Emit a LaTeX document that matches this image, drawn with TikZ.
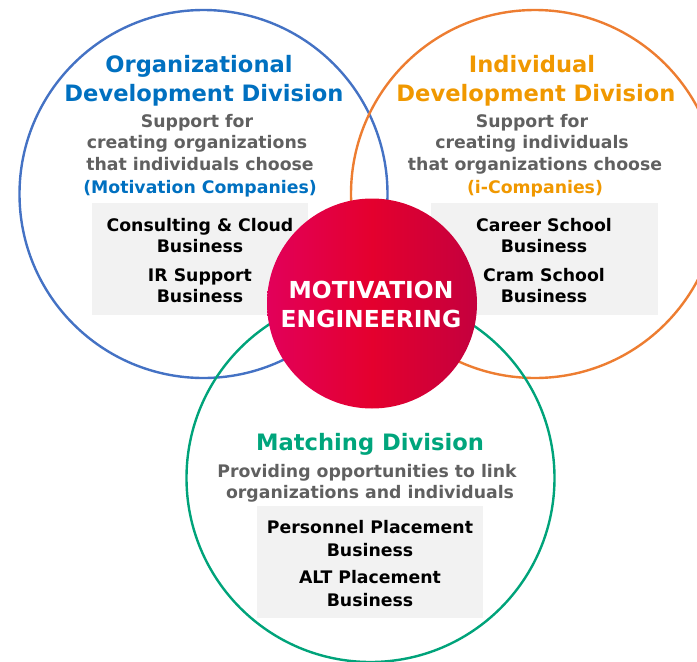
\documentclass[tikz,border=0pt]{standalone}
\usepackage{fontspec}
\setmainfont{DejaVu Sans}

\definecolor{orgblue}{HTML}{0070C0}
\definecolor{ringblue}{HTML}{4472C4}
\definecolor{ringorange}{HTML}{ED7D31}
\definecolor{indorange}{HTML}{F09800}
\definecolor{matchgreen}{HTML}{00A57C}
\definecolor{ringgreen}{HTML}{00A37A}
\definecolor{subgray}{HTML}{606060}
\definecolor{boxgray}{HTML}{F2F2F2}
\definecolor{coreleft}{HTML}{E2005A}
\definecolor{coremid}{HTML}{E4002E}
\definecolor{coreright}{HTML}{C4003E}

\tikzset{
  ring/.style={circle, draw=#1, line width=2.4pt, minimum size=368pt, inner sep=0pt},
  bizbox/.style={fill=boxgray, draw=none, inner sep=0pt},
  divtitle/.style={anchor=base, inner sep=0pt, text=#1, font=\bfseries\fontsize{22.6}{22.6}\selectfont},
  subline/.style={anchor=base, inner sep=0pt, text=subgray, font=\bfseries\fontsize{17.3}{17.3}\selectfont},
  bizline/.style={anchor=base, inner sep=0pt, text=black, font=\bfseries\fontsize{17.3}{17.3}\selectfont},
  coreline/.style={anchor=base, inner sep=0pt, text=white, font=\bfseries\fontsize{23.4}{23.4}\selectfont},
}

\begin{document}
\begin{tikzpicture}[x=1pt, y=-1pt]
\useasboundingbox (0,0) rectangle (697,662);

% three division rings
\node[ring=ringblue]   (orgring)   at (203.5,194) {};
\node[ring=ringorange] (indring)   at (535,194)   {};
\node[ring=ringgreen]  (matchring) at (370.5,478) {};

% business boxes
\node[bizbox, minimum width=216pt, minimum height=112pt] (orgbox)   at (200,259)   {};
\node[bizbox, minimum width=227pt, minimum height=112pt] (indbox)   at (544.5,259) {};
\node[bizbox, minimum width=226pt, minimum height=112pt] (matchbox) at (370,562)   {};

% central core
\node[circle, minimum size=210pt, inner sep=0pt,
      left color=coreleft, right color=coreright, middle color=coremid] (core) at (372,303.5) {};
\node[coreline] (core1) at (371,298) {MOTIVATION};
\node[coreline] (core2) at (371,327) {ENGINEERING};

% organizational development division
\node[divtitle=orgblue] (orgt1) at (199,72)  {Organizational};
\node[divtitle=orgblue] (orgt2) at (204,101) {Development Division};
\node[subline] (orgs1) at (197,127) {Support for};
\node[subline] (orgs2) at (197,148) {creating organizations};
\node[subline] (orgs3) at (200,170) {that individuals choose};
\node[subline, text=orgblue] (orgs4) at (200,193) {(Motivation Companies)};
\node[bizline] (orgb1) at (200,231) {Consulting \& Cloud};
\node[bizline] (orgb2) at (200,252) {Business};
\node[bizline] (orgb3) at (200,281) {IR Support};
\node[bizline] (orgb4) at (200,302) {Business};

% individual development division
\node[divtitle=indorange] (indt1) at (532,72)  {Individual};
\node[divtitle=indorange] (indt2) at (536,101) {Development Division};
\node[subline] (inds1) at (532,127) {Support for};
\node[subline] (inds2) at (532,148) {creating individuals};
\node[subline] (inds3) at (535,170) {that organizations choose};
\node[subline, text=indorange] (inds4) at (535,193) {(i-Companies)};
\node[bizline] (indb1) at (544,231) {Career School};
\node[bizline] (indb2) at (544,252) {Business};
\node[bizline] (indb3) at (544,281) {Cram School};
\node[bizline] (indb4) at (544,302) {Business};

% matching division
\node[divtitle=matchgreen] (matcht1) at (370,450) {Matching Division};
\node[subline] (matchs1) at (367,477) {Providing opportunities to link};
\node[subline] (matchs2) at (370,498) {organizations and individuals};
\node[bizline] (matchb1) at (370,533) {Personnel Placement};
\node[bizline] (matchb2) at (370,556) {Business};
\node[bizline] (matchb3) at (370,583) {ALT Placement};
\node[bizline] (matchb4) at (370,606) {Business};
\end{tikzpicture}
\end{document}
